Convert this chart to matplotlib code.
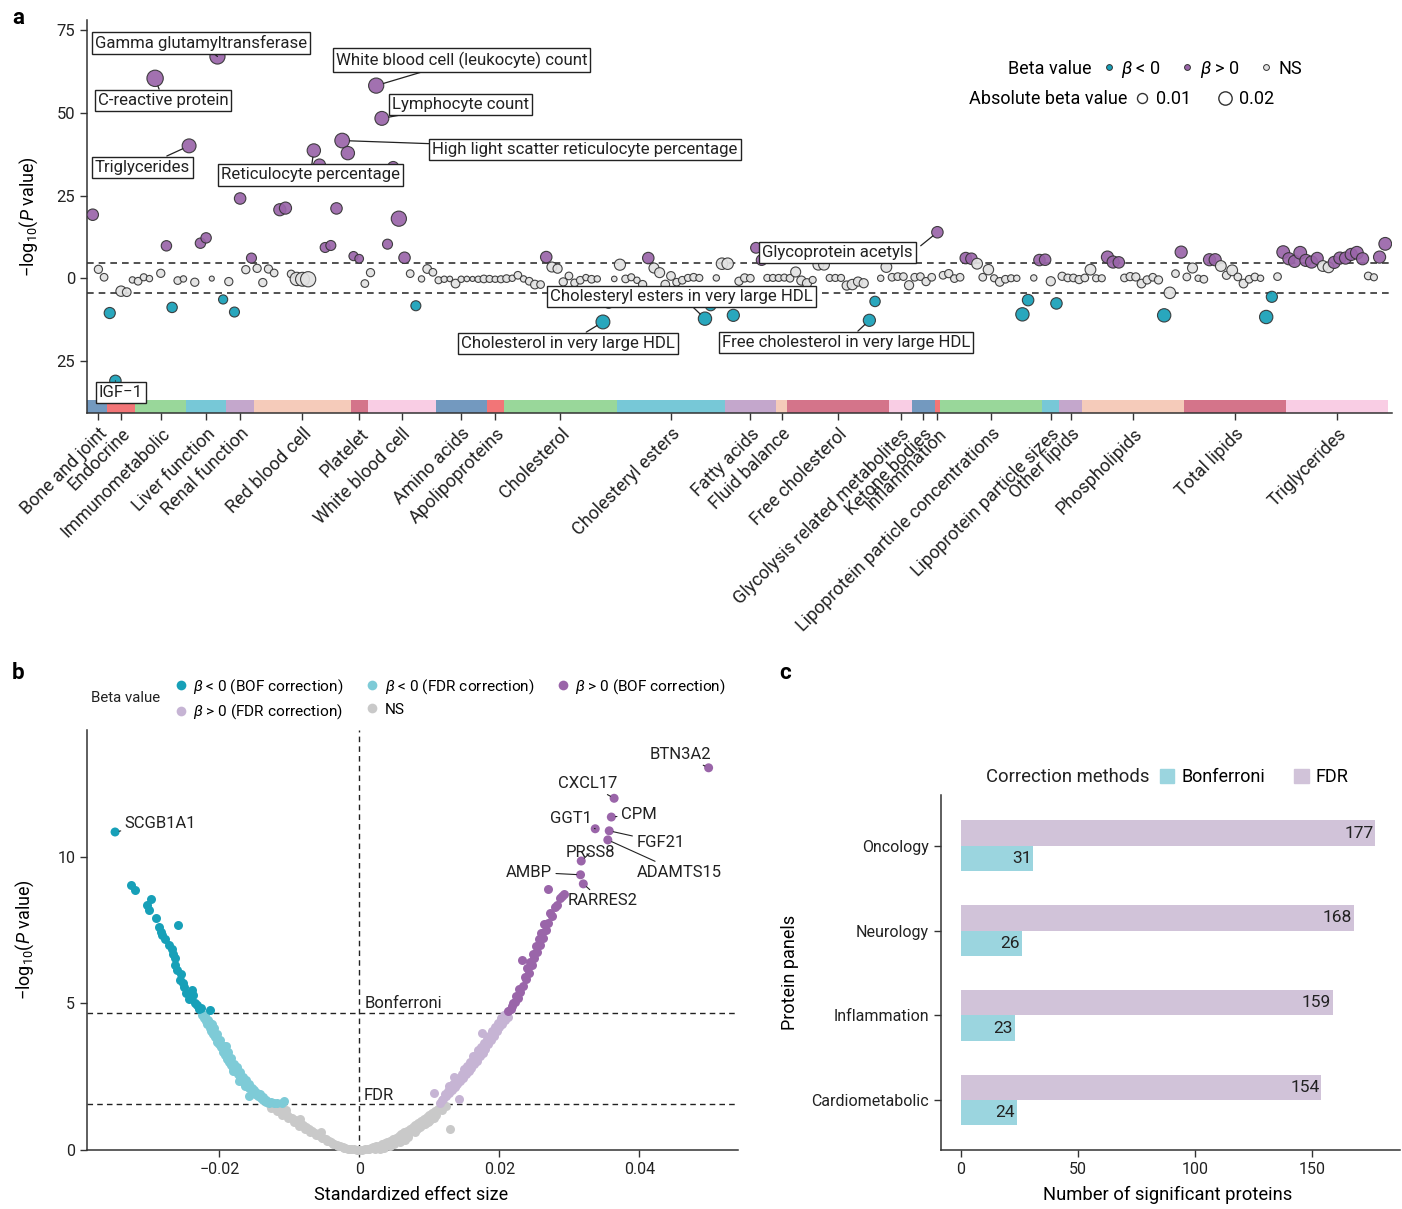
import numpy as np
import matplotlib.pyplot as plt
from matplotlib import font_manager
from matplotlib.lines import Line2D
from matplotlib.patches import Patch

installed = {f.name for f in font_manager.fontManager.ttflist}
BASE = "Roboto" if "Roboto" in installed else "DejaVu Sans"
plt.rcParams["font.family"] = [BASE, "DejaVu Sans"]
plt.rcParams["mathtext.fontset"] = "custom"
plt.rcParams["mathtext.rm"] = BASE
plt.rcParams["mathtext.it"] = BASE + ":italic"

# ---------------------------------------------------------------------------
# a: phenome-wide scan (signed -log10 P, |beta|), traits grouped by category
# ---------------------------------------------------------------------------
categories = ["Bone and joint", "Endocrine", "Immunometabolic", "Liver function",
              "Renal function", "Red blood cell", "Platelet", "White blood cell",
              "Amino acids", "Apolipoproteins", "Cholesterol", "Cholesteryl esters",
              "Fatty acids", "Fluid balance", "Free cholesterol",
              "Glycolysis related metabolites", "Ketone bodies", "Inflammation",
              "Lipoprotein particle concentrations", "Lipoprotein particle sizes",
              "Other lipids", "Phospholipids", "Total lipids", "Triglycerides"]
category_sizes = [3, 5, 9, 7, 5, 17, 3, 12, 9, 3, 20, 19, 9, 2, 18, 4, 4, 1, 18, 3, 4, 18, 18, 18]

trait_logp = [
    19.2, 2.7, 0.3, -10.5, -31.0, -3.9, -4.2, -0.5, -0.9, 0.3,
    -0.1, 60.4, 1.5, 9.8, -8.8, -0.7, -0.2, 40.0, -1.2, 10.6,
    12.2, -0.1, 67.0, -6.4, -1.0, -10.2, 24.1, 2.6, 6.1, 3.0,
    -1.3, 2.8, 1.6, 20.7, 21.2, 1.3, -0.2, -0.3, -0.3, 38.6,
    34.2, 9.3, 9.9, 21.1, 41.6, 37.8, 6.7, 5.9, -1.6, 1.7,
    58.2, 48.3, 10.3, 33.6, 18.0, 6.2, 1.4, -8.3, -0.2, 2.8,
    1.8, -0.6, -0.3, -0.2, -1.6, -0.3, -0.2, -0.2, -0.3, -0.2,
    -0.2, -0.3, -0.3, -0.1, 0.0, 0.9, -0.2, -0.9, -1.9, -1.9,
    6.4, 3.4, 2.9, -1.1, 0.7, -1.4, -0.6, 0.2, -0.3, -0.2,
    -13.2, -7.5, -0.2, 4.1, -0.2, 0.3, -0.6, -1.9, 6.1, 3.1,
    1.7, -1.9, 0.7, -1.2, -0.6, 0.1, 0.3, 0.1, -12.2, -8.2,
    0.1, 4.4, 4.4, -11.2, -0.9, 0.1, 0.0, 9.2, 5.5, 0.1,
    0.1, 0.1, 0.2, 0.0, 1.9, -0.7, -1.5, -0.5, 4.1, 4.1,
    0.1, 0.1, 0.1, -2.2, -1.9, -1.0, -1.5, -12.7, -7.0, 0.0,
    3.4, 0.3, 0.5, 0.5, -2.1, 0.3, 0.5, -1.0, 0.3, 13.9,
    0.9, 1.4, -0.1, 0.3, 6.1, 5.9, 4.4, 0.3, 2.6, 0.0,
    -1.1, -0.3, 0.0, 0.0, -10.9, -6.6, 0.1, 5.5, 5.6, -0.9,
    -7.6, 0.6, 0.1, 0.1, -0.4, 0.1, 2.6, 0.0, 0.0, 6.4,
    4.9, 4.8, 0.1, 0.5, 0.4, -1.6, -0.5, 0.3, -0.5, -11.2,
    -4.4, 1.4, 7.9, 0.4, 3.1, 0.0, -0.3, 5.6, 5.6, 3.7,
    0.9, 2.4, 0.4, -1.6, -0.3, 0.4, 0.0, -11.7, -5.6, 0.5,
    7.9, 5.9, 5.1, 7.7, 5.4, 4.9, 6.0, 3.7, 3.3, 4.8,
    6.1, 6.1, 7.2, 7.7, 5.9, 0.7, 0.3, 6.4, 10.4,
]
trait_abs_beta = [
    0.014, 0.006, 0.005, 0.013, 0.014, 0.011, 0.007, 0.003, 0.005, 0.004,
    0.003, 0.032, 0.006, 0.011, 0.011, 0.005, 0.003, 0.022, 0.006, 0.011,
    0.011, 0.0015, 0.027, 0.008, 0.006, 0.010, 0.014, 0.006, 0.010, 0.006,
    0.006, 0.006, 0.005, 0.016, 0.016, 0.005, 0.020, 0.022, 0.027, 0.020,
    0.016, 0.010, 0.010, 0.014, 0.025, 0.020, 0.008, 0.007, 0.005, 0.006,
    0.027, 0.022, 0.010, 0.013, 0.027, 0.014, 0.005, 0.010, 0.003, 0.007,
    0.005, 0.004, 0.003, 0.002, 0.007, 0.003, 0.002, 0.0015, 0.003, 0.005,
    0.004, 0.003, 0.004, 0.005, 0.003, 0.005, 0.003, 0.005, 0.007, 0.005,
    0.014, 0.010, 0.008, 0.006, 0.005, 0.005, 0.005, 0.003, 0.005, 0.003,
    0.022, 0.011, 0.002, 0.013, 0.005, 0.004, 0.003, 0.006, 0.014, 0.010,
    0.010, 0.007, 0.007, 0.005, 0.005, 0.004, 0.005, 0.004, 0.020, 0.012,
    0.003, 0.014, 0.014, 0.016, 0.006, 0.006, 0.005, 0.012, 0.012, 0.004,
    0.004, 0.004, 0.004, 0.005, 0.010, 0.008, 0.008, 0.004, 0.012, 0.012,
    0.004, 0.004, 0.004, 0.008, 0.011, 0.008, 0.008, 0.016, 0.011, 0.003,
    0.012, 0.005, 0.005, 0.005, 0.008, 0.005, 0.005, 0.006, 0.005, 0.014,
    0.005, 0.006, 0.005, 0.005, 0.014, 0.014, 0.012, 0.005, 0.011, 0.004,
    0.007, 0.005, 0.004, 0.003, 0.020, 0.014, 0.003, 0.014, 0.014, 0.008,
    0.014, 0.006, 0.005, 0.005, 0.006, 0.005, 0.012, 0.004, 0.004, 0.016,
    0.016, 0.014, 0.005, 0.006, 0.006, 0.007, 0.006, 0.005, 0.006, 0.020,
    0.014, 0.005, 0.016, 0.005, 0.010, 0.003, 0.005, 0.016, 0.016, 0.012,
    0.006, 0.012, 0.005, 0.007, 0.005, 0.005, 0.003, 0.020, 0.013, 0.005,
    0.018, 0.016, 0.016, 0.018, 0.016, 0.016, 0.016, 0.012, 0.012, 0.016,
    0.016, 0.016, 0.016, 0.018, 0.016, 0.005, 0.004, 0.016, 0.018,
]
PHEWAS_THRESHOLD = 4.6

# trait index, label, text anchor (x index, y), side of the box the leader leaves from
callouts = [
    (22, "Gamma glutamyltransferase", 0.4, 71.1, None),
    (11, "C-reactive protein", 0.9, 53.8, None),
    (17, "Triglycerides", 0.4, 33.6, None),
    (39, "Reticulocyte percentage", 22.6, 31.2, None),
    (50, "White blood cell (leukocyte) count", 42.9, 65.9, None),
    (51, "Lymphocyte count", 52.8, 52.6, None),
    (44, "High light scatter reticulocyte percentage", 59.9, 39.0, None),
    (4, "IGF\u22121", 1.1, -34.4, None),
    (149, "Glycoprotein acetyls", 118.1, 7.9, (1.0, 0.5)),
    (108, "Cholesteryl esters in very large HDL", 80.7, -5.4, None),
    (90, "Cholesterol in very large HDL", 65.0, -19.6, None),
    (137, "Free cholesterol in very large HDL", 111.0, -19.3, None),
]

# ---------------------------------------------------------------------------
# b: volcano plot of protein associations, (effect size, -log10 P)
# ---------------------------------------------------------------------------
neg_bof = [(-0.0326, 9.04), (-0.0320, 8.87), (-0.0303, 8.35), (-0.0297, 8.55),
           (-0.0300, 8.2), (-0.0290, 7.9), (-0.0286, 7.6), (-0.0284, 7.45),
           (-0.0282, 7.35), (-0.0278, 7.2), (-0.0272, 7.0), (-0.0268, 6.85),
           (-0.0266, 6.7), (-0.0264, 6.55), (-0.0263, 6.3), (-0.0261, 6.14),
           (-0.0259, 7.68), (-0.0256, 5.8), (-0.0255, 6.0), (-0.0252, 5.7),
           (-0.0250, 5.55), (-0.0247, 5.36), (-0.0244, 5.15), (-0.0240, 5.2),
           (-0.0239, 5.45), (-0.0237, 5.3), (-0.0235, 5.0), (-0.0232, 4.95),
           (-0.0229, 4.8), (-0.0226, 4.85), (-0.0214, 4.78)]
neg_fdr = [(-0.0225, 4.62), (-0.0222, 4.5), (-0.0220, 4.62), (-0.0219, 4.4),
           (-0.0217, 4.3), (-0.0216, 4.45), (-0.0214, 4.15), (-0.0213, 4.35),
           (-0.0212, 4.05), (-0.0210, 4.3), (-0.0209, 3.95), (-0.0208, 4.15),
           (-0.0206, 3.85), (-0.0204, 3.7), (-0.0203, 3.95), (-0.0201, 3.6),
           (-0.0199, 3.75), (-0.0198, 3.5), (-0.0195, 3.35), (-0.0194, 3.55),
           (-0.0192, 3.25), (-0.0190, 3.55), (-0.0189, 3.12), (-0.0188, 3.35),
           (-0.0186, 3.0), (-0.0184, 3.15), (-0.0183, 2.9), (-0.0181, 2.7),
           (-0.0180, 2.8), (-0.0179, 2.95), (-0.0177, 2.7), (-0.0175, 2.82),
           (-0.0174, 2.6), (-0.0172, 2.35), (-0.0171, 2.5), (-0.0170, 2.65),
           (-0.0168, 2.4), (-0.0166, 2.5), (-0.0165, 2.3), (-0.0164, 2.2),
           (-0.0162, 2.38), (-0.0161, 2.2), (-0.0158, 2.25), (-0.0157, 2.1),
           (-0.0157, 1.85), (-0.0154, 2.12), (-0.0153, 2.0), (-0.0150, 2.05),
           (-0.0149, 1.92), (-0.0146, 1.95), (-0.0145, 1.85), (-0.0142, 1.9),
           (-0.0141, 1.78), (-0.0138, 1.8), (-0.0137, 1.72), (-0.0134, 1.72),
           (-0.0133, 1.65), (-0.0129, 1.6), (-0.0126, 1.65), (-0.0122, 1.62),
           (-0.0118, 1.6), (-0.0111, 1.62), (-0.0107, 1.66)]
ns = [(-0.0128, 1.55), (-0.0126, 1.45), (-0.0124, 1.50), (-0.0120, 1.44),
      (-0.0118, 1.32), (-0.0116, 1.38), (-0.0112, 1.32), (-0.0110, 1.2),
      (-0.0108, 1.26), (-0.0105, 1.35), (-0.0104, 1.20), (-0.0102, 1.08),
      (-0.0100, 1.14), (-0.0096, 1.08), (-0.0094, 0.95), (-0.0092, 1.02),
      (-0.0088, 0.96), (-0.0086, 0.82), (-0.0085, 1.05), (-0.0084, 0.90),
      (-0.0080, 0.84), (-0.0078, 0.7), (-0.0076, 0.78), (-0.0072, 0.72),
      (-0.0070, 0.6), (-0.0068, 0.65), (-0.0064, 0.59), (-0.0062, 0.5),
      (-0.0060, 0.53), (-0.0056, 0.47), (-0.0055, 0.60), (-0.0054, 0.4),
      (-0.0052, 0.42), (-0.0048, 0.36), (-0.0046, 0.3), (-0.0044, 0.31),
      (-0.0040, 0.27), (-0.0038, 0.2), (-0.0036, 0.22), (-0.0032, 0.18),
      (-0.0030, 0.12), (-0.0028, 0.14), (-0.0024, 0.11), (-0.0022, 0.06),
      (-0.0020, 0.08), (-0.0016, 0.05), (-0.0014, 0.02), (-0.0012, 0.03),
      (-0.0008, 0.02), (-0.0004, 0.01), (0.0, 0.0), (0.0004, 0.01),
      (0.0008, 0.02), (0.0012, 0.04), (0.0014, 0.02), (0.0016, 0.06),
      (0.0020, 0.09), (0.0022, 0.05), (0.0024, 0.12), (0.0028, 0.15),
      (0.0030, 0.05), (0.0030, 0.10), (0.0032, 0.19), (0.0035, 0.08),
      (0.0036, 0.23), (0.0038, 0.17), (0.0040, 0.27), (0.0044, 0.32),
      (0.0044, 0.12), (0.0046, 0.25), (0.0048, 0.37), (0.0050, 0.22),
      (0.0052, 0.42), (0.0054, 0.33), (0.0056, 0.48), (0.0058, 0.28),
      (0.0060, 0.54), (0.0062, 0.42), (0.0064, 0.60), (0.0065, 0.35),
      (0.0068, 0.66), (0.0070, 0.45), (0.0070, 0.55), (0.0072, 0.72),
      (0.0076, 0.79), (0.0078, 0.65), (0.0080, 0.86), (0.0080, 0.62),
      (0.0082, 0.72), (0.0084, 0.92), (0.0086, 0.78), (0.0088, 0.99),
      (0.0090, 0.85), (0.0092, 1.06), (0.0094, 0.9), (0.0096, 1.13),
      (0.0098, 0.95), (0.0100, 1.20), (0.0100, 1.00), (0.0102, 1.05),
      (0.0104, 1.27), (0.0106, 1.1), (0.0108, 1.34), (0.0110, 1.2),
      (0.0112, 1.41), (0.0116, 1.48), (0.0118, 1.35), (0.0120, 1.55),
      (0.0124, 1.5), (0.0129, 0.72)]
pos_fdr = [(0.0107, 1.95), (0.0115, 1.62), (0.0118, 1.7), (0.0120, 1.75),
           (0.0122, 1.9), (0.0124, 1.85), (0.0126, 2.0), (0.0128, 1.95),
           (0.0128, 2.2), (0.0130, 2.15), (0.0132, 2.05), (0.0134, 2.25),
           (0.0135, 2.5), (0.0136, 2.15), (0.0138, 2.35), (0.0140, 2.25),
           (0.0142, 2.45), (0.0143, 1.75), (0.0144, 2.35), (0.0146, 2.6),
           (0.0148, 2.45), (0.0150, 2.75), (0.0152, 2.6), (0.0154, 2.85),
           (0.0156, 2.7), (0.0158, 3.0), (0.0160, 2.8), (0.0162, 3.2),
           (0.0164, 2.95), (0.0166, 3.25), (0.0168, 3.05), (0.0170, 3.4),
           (0.0172, 3.2), (0.0174, 3.5), (0.0175, 4.0), (0.0176, 3.3),
           (0.0178, 3.65), (0.0180, 3.45), (0.0182, 3.8), (0.0184, 3.6),
           (0.0185, 3.9), (0.0188, 3.75), (0.0190, 4.05), (0.0192, 3.9),
           (0.0194, 4.2), (0.0196, 4.05), (0.0198, 4.35), (0.0200, 4.2),
           (0.0202, 4.5), (0.0204, 4.3), (0.0206, 4.6), (0.0208, 4.45),
           (0.0210, 4.65), (0.0212, 4.55)]
pos_bof = [(0.0213, 4.75), (0.0216, 4.8), (0.0218, 4.9), (0.0220, 5.0),
           (0.0222, 5.05), (0.0224, 5.25), (0.0226, 5.2), (0.0228, 5.5),
           (0.0230, 5.4), (0.0233, 6.48), (0.0234, 5.6), (0.0236, 5.9),
           (0.0238, 5.85), (0.0240, 6.2), (0.0242, 6.05), (0.0244, 6.4),
           (0.0246, 6.3), (0.0248, 6.7), (0.0250, 6.55), (0.0252, 6.95),
           (0.0254, 6.75), (0.0256, 7.2), (0.0258, 7.0), (0.0260, 7.4),
           (0.0262, 7.25), (0.0264, 7.7), (0.0266, 7.5), (0.0269, 8.9),
           (0.0270, 7.75), (0.0272, 8.1), (0.0275, 8.0), (0.0279, 8.3),
           (0.0283, 8.35), (0.0287, 8.6), (0.0290, 8.65), (0.0293, 8.75)]

# named proteins: name, effect, -log10 P
named_genes = ["SCGB1A1", "BTN3A2", "CXCL17", "CPM", "GGT1", "FGF21",
               "ADAMTS15", "PRSS8", "AMBP", "RARRES2"]
named_x = [-0.0349, 0.0499, 0.0364, 0.0360, 0.0337, 0.0357, 0.0355, 0.0317, 0.0316, 0.0320]
named_y = [10.85, 13.04, 12.0, 11.36, 10.96, 10.89, 10.58, 9.86, 9.39, 9.08]
# label anchor for each named protein (effect, -log10 P, alignment)
named_text = [(-0.0335, 11.15, "left"), (0.0459, 13.5, "center"), (0.0326, 12.5, "center"),
              (0.0374, 11.45, "left"), (0.0302, 11.3, "center"), (0.0396, 10.5, "left"),
              (0.0396, 9.48, "left"), (0.0330, 10.15, "center"), (0.0275, 9.48, "right"),
              (0.0297, 8.5, "left")]
BONF_LINE = 4.68
FDR_LINE = 1.57

# ---------------------------------------------------------------------------
# c: number of significant proteins per Olink panel
# ---------------------------------------------------------------------------
protein_panels = ["Oncology", "Neurology", "Inflammation", "Cardiometabolic"]
n_bonferroni = [31, 26, 23, 24]
n_fdr = [177, 168, 159, 154]

TEAL, PURPLE, GREY_A = "#17a0b8", "#9a65a9", "#e2e2e2"
TEAL_L, PURPLE_L, GREY_B = "#7ecbd7", "#c6b4d4", "#c9c9c9"
BONF_C, FDR_C = "#9bd5df", "#d1c3d9"
BAR_COLS = ["#7399bf", "#f27577", "#99d79a", "#77c8d7", "#c4a7cc", "#f5cbba", "#d4748a", "#f9cde4"]
INK = "#222222"


def dot_size(beta):
    # marker area from |beta| (diameter in points grows with sqrt(|beta|))
    return (1.4 + 58 * np.sqrt(np.asarray(beta))) ** 2


def style_axis(ax):
    for s in ("top", "right"):
        ax.spines[s].set_visible(False)
    for s in ("left", "bottom"):
        ax.spines[s].set_color("#333333")
        ax.spines[s].set_linewidth(1.1)
    ax.tick_params(colors="#333333", labelcolor=INK, width=1.0, length=5)


fig = plt.figure(figsize=(14.02, 12.09), dpi=100)

# ---- panel a ---------------------------------------------------------------
ax = fig.add_axes([0.0621, 0.6584, 0.9308, 0.325])
style_axis(ax)
logp = np.array(trait_logp)
beta = np.array(trait_abs_beta)
idx = np.arange(len(logp))
sig = np.abs(logp) > PHEWAS_THRESHOLD
cols = np.where(~sig, GREY_A, np.where(logp > 0, PURPLE, TEAL))
ax.scatter(idx, logp, s=dot_size(beta), c=cols, edgecolors="#333333",
           linewidths=0.8, alpha=0.92, zorder=3)
for yy in (PHEWAS_THRESHOLD, -PHEWAS_THRESHOLD):
    ax.axhline(yy, color="#333333", lw=1.2, ls=(0, (4, 3)), zorder=1)

ylo, yhi = -40.7, 78.0
starts = np.concatenate([[0], np.cumsum(category_sizes)[:-1]])
for k, (st, cnt) in enumerate(zip(starts, category_sizes)):
    left = st - 0.5 if st > 0 else -1.0
    right = st + cnt - 0.5
    ax.bar(left, 3.9, width=right - left, bottom=ylo, align="edge",
           color=BAR_COLS[k % len(BAR_COLS)], lw=0, zorder=2)
centers = starts + (np.array(category_sizes) - 1) / 2
ax.set_xticks(centers)
ax.set_xticklabels(categories, rotation=45, ha="right", rotation_mode="anchor", fontsize=13)
ax.set_xlim(-1.0, 229.2)
ax.set_ylim(ylo, yhi)
ax.set_yticks([-25, 0, 25, 50, 75])
ax.set_yticklabels(["25", "0", "25", "50", "75"], fontsize=12)
ax.set_ylabel("\u2212log$_{10}$($P$ value)", fontsize=13)
ax.yaxis.set_label_coords(-0.036, 0.5)

for i, text, tx, ty, rel in callouts:
    r = (1.4 + 58 * np.sqrt(beta[i])) / 2
    arrow = dict(arrowstyle="-", color=INK, lw=0.9, shrinkA=0, shrinkB=r)
    if rel is not None:
        arrow["relpos"] = rel
        arrow["shrinkA"] = 4
    ax.annotate(text, xy=(i, logp[i]), xytext=(tx, ty), ha="left", va="center",
                fontsize=12.1, color=INK, zorder=6,
                bbox=dict(boxstyle="square,pad=0.18", fc="white", ec=INK, lw=1.0),
                arrowprops=arrow)

beta_handles = [Line2D([], [], ls="none", marker="o", ms=4.2, mfc=c, mec="#333333", mew=0.7)
                for c in (TEAL, PURPLE, GREY_A)]
leg1 = ax.legend(beta_handles, ["$\\beta$ < 0", "$\\beta$ > 0", "NS"], ncol=3,
                 loc="center left", bbox_to_anchor=(0.778, 0.875), frameon=False,
                 fontsize=13, handlelength=0.7, handletextpad=0.35, columnspacing=1.1,
                 borderpad=0, borderaxespad=0)
ax.add_artist(leg1)
ax.text(0.770, 0.875, "Beta value", transform=ax.transAxes, ha="right", va="center", fontsize=13)
size_handles = [Line2D([], [], ls="none", marker="o", ms=np.sqrt(dot_size(v)), mfc="white",
                       mec="#333333", mew=1.0) for v in (0.01, 0.02)]
ax.legend(size_handles, ["0.01", "0.02"], ncol=2, loc="center left",
          bbox_to_anchor=(0.802, 0.799), frameon=False, fontsize=13, handlelength=0.9,
          handletextpad=0.35, columnspacing=1.4, borderpad=0, borderaxespad=0)
ax.text(0.797, 0.799, "Absolute beta value", transform=ax.transAxes, ha="right",
        va="center", fontsize=13)

# ---- panel b ---------------------------------------------------------------
axb = fig.add_axes([0.0621, 0.0488, 0.4643, 0.3474])
style_axis(axb)
dot = 42
groups = [(ns, GREY_B), (neg_fdr, TEAL_L), (pos_fdr, PURPLE_L), (neg_bof, TEAL), (pos_bof, PURPLE)]
for pts, colour in groups:
    gx, gy = zip(*pts)
    axb.scatter(gx, gy, s=dot, c=colour, lw=0, zorder=3, clip_on=False)
named_cols = [TEAL if v < 0 else PURPLE for v in named_x]
axb.scatter(named_x, named_y, s=dot, c=named_cols, lw=0, zorder=3)

axb.axhline(BONF_LINE, color=INK, lw=1.0, ls=(0, (4, 3)), zorder=1)
axb.axhline(FDR_LINE, color=INK, lw=1.0, ls=(0, (4, 3)), zorder=1)
axb.axvline(0, color=INK, lw=1.0, ls=(0, (4, 3)), zorder=1)
axb.text(0.0007, BONF_LINE + 0.05, "Bonferroni", fontsize=12, va="bottom", ha="left", color=INK)
axb.text(0.0006, FDR_LINE + 0.05, "FDR", fontsize=12, va="bottom", ha="left", color=INK)

for name, gx, gy, (tx, ty, al) in zip(named_genes, named_x, named_y, named_text):
    axb.annotate(name, xy=(gx, gy), xytext=(tx, ty), ha=al, va="center", fontsize=12,
                 color=INK, arrowprops=dict(arrowstyle="-", color=INK, lw=0.8,
                                            shrinkA=1, shrinkB=3))

axb.set_xlim(-0.0389, 0.0541)
axb.set_ylim(0, 14.33)
axb.set_xticks([-0.02, 0, 0.02, 0.04])
axb.set_xticklabels(["\u22120.02", "0", "0.02", "0.04"], fontsize=11.5)
axb.set_yticks([0, 5, 10])
axb.set_yticklabels(["0", "5", "10"], fontsize=11.5)
axb.set_xlabel("Standardized effect size", fontsize=13)
axb.xaxis.set_label_coords(0.498, -0.085)
axb.set_ylabel("\u2212log$_{10}$($P$ value)", fontsize=13)
axb.yaxis.set_label_coords(-0.078, 0.5)

vol_handles = [Line2D([], [], ls="none", marker="o", ms=7, mfc=c, mec="none")
               for c in (TEAL, PURPLE_L, TEAL_L, GREY_B, PURPLE)]
vol_labels = ["$\\beta$ < 0 (BOF correction)", "$\\beta$ > 0 (FDR correction)",
              "$\\beta$ < 0 (FDR correction)", "NS", "$\\beta$ > 0 (BOF correction)"]
fig.legend(vol_handles, vol_labels, ncol=3, loc="center left",
           bbox_to_anchor=(0.1248, 0.4218), frameon=False, fontsize=11.1,
           handlelength=0.8, handletextpad=0.4, columnspacing=1.45, labelspacing=0.45,
           borderpad=0, borderaxespad=0)
fig.text(0.0649, 0.4224, "Beta value", fontsize=10.8, ha="left", va="center", color=INK)

# ---- panel c ---------------------------------------------------------------
axc = fig.add_axes([0.6712, 0.0488, 0.3274, 0.2936])
style_axis(axc)
pos = np.arange(len(protein_panels))[::-1]
axc.barh(pos - 0.15, n_bonferroni, height=0.3, color=BONF_C, lw=0)
axc.barh(pos + 0.15, n_fdr, height=0.3, color=FDR_C, lw=0)
for p, vb, vf in zip(pos, n_bonferroni, n_fdr):
    axc.text(vb - 0.8, p - 0.15, str(vb), ha="right", va="center", fontsize=12.5, color=INK)
    axc.text(vf - 0.8, p + 0.15, str(vf), ha="right", va="center", fontsize=12.5, color=INK)
axc.set_yticks(pos)
axc.set_yticklabels(protein_panels, fontsize=11.5)
axc.set_xticks([0, 50, 100, 150])
axc.tick_params(axis="x", labelsize=11.5)
axc.set_xlim(-8.5, 187.6)
axc.set_ylim(-0.59, 3.6)
axc.set_xlabel("Number of significant proteins", fontsize=13.2)
axc.xaxis.set_label_coords(0.4946, -0.1)
axc.set_ylabel("Protein panels", fontsize=13)
axc.yaxis.set_label_coords(-0.31, 0.5)
axc.legend([Patch(color=BONF_C), Patch(color=FDR_C)], ["Bonferroni", "FDR"], ncol=2,
           loc="center left", bbox_to_anchor=(0.477, 1.051), frameon=False, fontsize=13,
           handlelength=0.8, handleheight=0.8, handletextpad=0.4, columnspacing=1.6,
           borderpad=0, borderaxespad=0)
axc.text(0.455, 1.051, "Correction methods", transform=axc.transAxes, ha="right",
         va="center", fontsize=13.3, color=INK)

for lab, x0, y0 in (("a", 0.0128, 0.985), ("b", 0.0128, 0.4433), ("c", 0.56, 0.4433)):
    fig.text(x0, y0, lab, fontsize=16, fontweight="bold", ha="center", va="center")

fig.savefig("out.png", dpi=100)
